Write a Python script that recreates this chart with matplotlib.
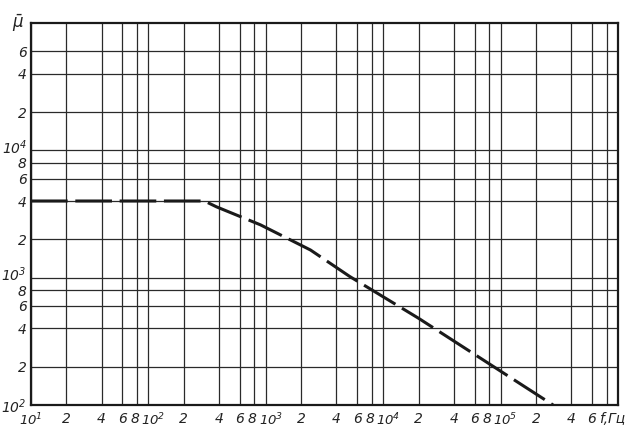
import matplotlib
matplotlib.use("Agg")
import matplotlib.pyplot as plt
import matplotlib.transforms as mtrans
import numpy as np

# Data
freq = [10, 300, 380, 900, 2400, 5200, 20000, 280000]
mu = [4000, 4000, 3600, 2600, 1650, 1020, 480, 100]

x_ticks = [1e1, 2e1, 4e1, 6e1, 8e1, 1e2, 2e2, 4e2, 6e2, 8e2, 1e3, 2e3, 4e3, 6e3, 8e3,
           1e4, 2e4, 4e4, 6e4, 8e4, 1e5, 2e5, 4e5, 6e5, 8e5]
x_labels = [r'$10^1$', '2', '4', '6', '8', r'$10^2$', '2', '4', '6', '8', r'$10^3$', '2', '4', '6', '8',
            r'$10^4$', '2', '4', '6', '8', r'$10^5$', '2', '4', '6', 'f,Гц']
y_ticks = [1e2, 2e2, 4e2, 6e2, 8e2, 1e3, 2e3, 4e3, 6e3, 8e3, 1e4, 2e4, 4e4, 6e4]
y_labels = [r'$10^2$', '2', '4', '6', '8', r'$10^3$', '2', '4', '6', '8', r'$10^4$', '2', '4', '6']

plt.rcParams['font.family'] = ['Liberation Sans Narrow', 'DejaVu Sans']
plt.rcParams['mathtext.fontset'] = 'custom'
plt.rcParams['mathtext.it'] = 'Liberation Sans Narrow:italic'
plt.rcParams['mathtext.rm'] = 'Liberation Sans Narrow'
plt.rcParams['mathtext.default'] = 'it'
plt.rcParams['font.style'] = 'italic'

fig = plt.figure(figsize=(6.41, 4.40), dpi=100)
ax = fig.add_axes([31/641, 1-405/440, (618-31)/641, (405-23)/440])
ax.set_xscale('log')
ax.set_yscale('log')
ax.set_xlim(1e1, 1e6)
ax.set_ylim(1e2, 1e5)

ax.set_xticks(x_ticks)
ax.set_xticklabels(x_labels)
ax.set_yticks(y_ticks)
ax.set_yticklabels(y_labels)
ax.xaxis.set_minor_locator(matplotlib.ticker.NullLocator())
ax.yaxis.set_minor_locator(matplotlib.ticker.NullLocator())
ax.tick_params(axis='both', length=0, labelsize=10, colors='#222222')
ax.tick_params(axis='x', pad=5)
ax.tick_params(axis='y', pad=3)
ax.grid(True, which='major', color='#2a2a2a', linewidth=0.9)
for s in ax.spines.values():
    s.set_color('#1a1a1a')
    s.set_linewidth(1.6)

ax.plot(freq, mu, color='#1a1a1a', linewidth=2.2, dashes=(12, 2.5), solid_capstyle='butt')

for i, lbl in enumerate(ax.get_xticklabels()):
    t = lbl.get_text()
    if t.startswith('$10'):
        lbl.set_fontsize(9.5)
        dx = 0 if i == 0 else 5
        lbl.set_transform(lbl.get_transform() + mtrans.ScaledTranslation(dx/100, 0, fig.dpi_scale_trans))
    elif t == '8':
        lbl.set_transform(lbl.get_transform() + mtrans.ScaledTranslation(-2/100, 0, fig.dpi_scale_trans))
    elif t.startswith('f'):
        lbl.set_horizontalalignment('left')
        lbl.set_transform(lbl.get_transform() + mtrans.ScaledTranslation(-8/100, 0, fig.dpi_scale_trans))
for lbl in ax.get_yticklabels()[1:]:
    if lbl.get_text().startswith('$10'):
        lbl.set_transform(lbl.get_transform() + mtrans.ScaledTranslation(0, 4/100, fig.dpi_scale_trans))

ax.text(-0.012, 1.0, r'$\bar{\mu}$', transform=ax.transAxes, fontsize=12,
        ha='right', va='center', color='#222222')

fig.savefig('out.png', dpi=100)
